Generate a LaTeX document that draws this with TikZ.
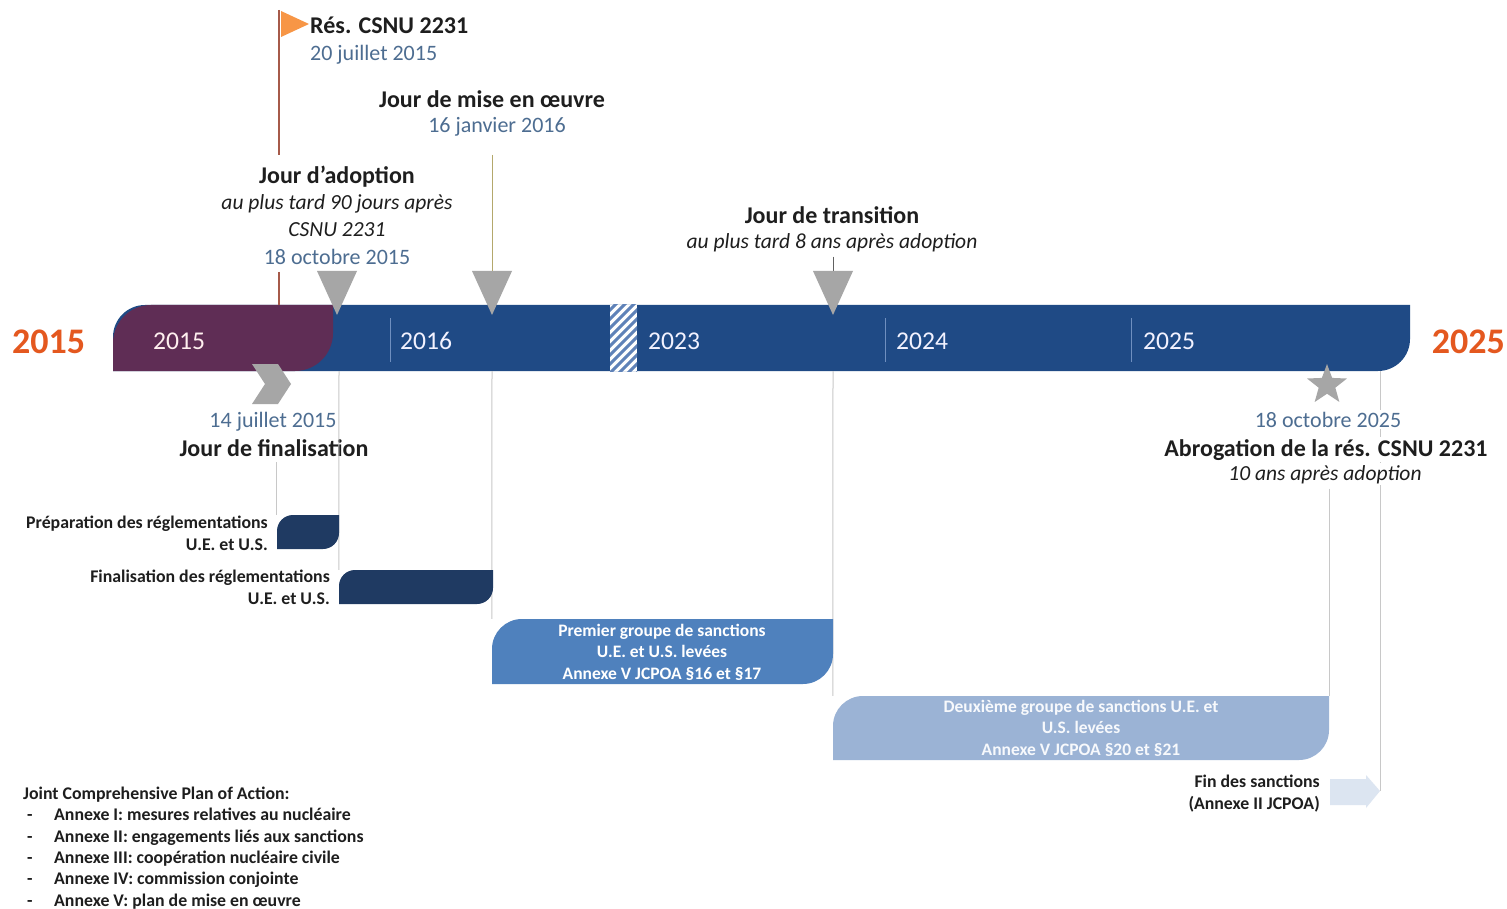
\documentclass[tikz,border=0pt]{standalone}
\usepackage{fontspec}
\setmainfont{Carlito}
\usetikzlibrary{shapes.geometric}
\definecolor{plum}{HTML}{5F2D55}
\definecolor{barblue}{HTML}{1F4A85}
\definecolor{navy}{HTML}{1F3A62}
\definecolor{midblue}{HTML}{4F81BD}
\definecolor{paleblue}{HTML}{9BB3D5}
\definecolor{ghost}{HTML}{DCE5F1}
\definecolor{grayc}{HTML}{A6A6A6}
\definecolor{linec}{HTML}{C8C8C8}
\definecolor{datec}{HTML}{4D6D91}
\definecolor{orng}{HTML}{E4581F}
\definecolor{flagc}{HTML}{F79646}
\definecolor{polec}{HTML}{A65A4A}
\definecolor{olive}{HTML}{B4A86C}
\definecolor{txt}{HTML}{1E1E1E}
\definecolor{sepc}{HTML}{6F8FBF}
\definecolor{hatchc}{HTML}{5F82B8}
\newcommand{\leaffill}[6]{%
  \fill[#1] (#2,#5) -- (#2,{#3+#6}) .. controls (#2,{#3+0.448*#6}) and ({#2+0.448*#6},#3) .. ({#2+#6},#3)
    -- (#4,#3) -- (#4,{#5-#6}) .. controls (#4,{#5-0.448*#6}) and ({#4-0.448*#6},#5) .. ({#4-#6},#5) -- cycle;}
\begin{document}
\begin{tikzpicture}[x=1pt,y=-1pt,
  ttl/.style={font=\bfseries\fontsize{24}{29}\selectfont, text=txt, inner sep=0, anchor=base},
  dt/.style={font=\fontsize{22}{26}\selectfont, text=datec, inner sep=0, anchor=base},
  itl/.style={font=\itshape\fontsize{21.5}{26}\selectfont, text=txt, inner sep=0, anchor=base},
  lbl/.style={font=\bfseries\fontsize{17.8}{21.3}\selectfont, text=txt, inner sep=0},
  boxtxt/.style={font=\bfseries\fontsize{17.5}{21.5}\selectfont, text=white, inner sep=0, align=center, anchor=base},
  yr/.style={font=\fontsize{25.6}{30}\selectfont, inner sep=0, anchor=base west},
  bigyr/.style={font=\bfseries\fontsize{36}{40}\selectfont, text=orng, inner sep=0},
  vline/.style={draw=linec, line width=1pt},
  trig/.style={fill=grayc},
  sep/.style={draw=sepc, line width=1pt},
  mask/.style={fill=white, inner ysep=2pt, inner xsep=0pt}
]
\useasboundingbox (0,0) rectangle (1507,909);
\fill[white] (0,0) rectangle (1507,909);

% ---------- main bar ----------
\leaffill{barblue}{113}{305}{1410}{371}{32}
\leaffill{plum}{113}{305}{333}{371}{38}
\node[inner sep=0, minimum width=1297pt, minimum height=66pt] (bar) at (761.5,338) {};
% hatch
\begin{scope}
  \clip (610,305) rectangle (637,371);
  \fill[white] (610,305) rectangle (637,371);
  \foreach \i in {0,...,12} \draw[hatchc, line width=3pt] ({540+\i*9},380) -- ({540+\i*9+80},300);
\end{scope}
% separators
\draw[sep] (390,318) -- (390,362);
\draw[sep] (885,318) -- (885,362);
\draw[sep] (1131,318) -- (1131,362);
% year labels
\node[yr, text=pink!25] (y2015) at (153,349) {2015};
\node[yr, text=blue!5] (y2016) at (400,349) {2016};
\node[yr, text=blue!5] (y2023) at (648,349) {2023};
\node[yr, text=blue!5] (y2024) at (896,349) {2024};
\node[yr, text=blue!5] (y2025) at (1143,349) {2025};
\node[bigyr, anchor=base west] (start) at (12,353) {2015};
\node[bigyr, anchor=base east] (end) at (1505,353) {2025};

% ---------- top events ----------
\node[ttl, anchor=base west] (res) at (310,34) {Rés. CSNU 2231};
\node[dt, anchor=base west] (resd) at (310,61) {20 juillet 2015};
\node[ttl] (mise) at (492,108) {Jour de mise en œuvre};
\node[dt] (mised) at (497,133) {16 janvier 2016};
\node[ttl] (adop) at (337,184) {Jour d’adoption};
\node[itl] (adopi1) at (337,210) {au plus tard 90 jours après};
\node[itl] (adopi2) at (337,237) {CSNU 2231};
\node[dt] (adopd) at (337,265) {18 octobre 2015};
\node[ttl] (trans) at (832,224) {Jour de transition};
\node[itl] (transi) at (832,249) {au plus tard 8 ans après adoption};

% flag and pole
\coordinate (poletop) at (279,10);
\coordinate (polemid) at (279,155);
\coordinate (polelow) at (279,272);
\draw[polec, line width=1.2pt] (poletop) -- (polemid);
\draw[polec, line width=1.2pt] (polelow) -- (polelow |- bar.north);
\fill[flagc] (281,11) -- (309,24) -- (281,37) -- cycle;
\node[inner sep=0] (flag) at (292,24) {};

% markers
\coordinate (tA) at (337,271);
\coordinate (tM) at (492,271);
\coordinate (tT) at (833,271);
\draw[olive, line width=1pt] (492,155) -- (tM);
\draw[txt!70, line width=1pt] (transi.south -| tT) ++(0,4) -- (tT);
\fill[trig] (317,271) -- (357,271) -- (337,315) -- cycle;
\fill[trig] (472,271) -- (512,271) -- (492,315) -- cycle;
\fill[trig] (813,271) -- (853,271) -- (833,315) -- cycle;

% chevron
\fill[grayc] (252,364) -- (278,364) -- (291,384) -- (278,404) -- (252,404) -- (265,384) -- cycle;
\node[inner sep=0] (chev) at (271,384) {};

% end-of-sanctions line (behind the abrogation labels)
\coordinate (arrowtip) at (1380,791);
\draw[vline] (1380,371) -- (arrowtip);

% star
\node[star, star points=5, star point ratio=2.4, fill=grayc, minimum size=42pt, inner sep=0] (star) at (1327,385) {};

% ---------- lower labels ----------
\node[dt] (find) at (273,427) {14 juillet 2015};
\node[ttl] (fin) at (274,456) {Jour de finalisation};
\node[dt, mask] (abrd) at (1328,427) {18 octobre 2025};
\node[ttl, mask] (abr) at (1326,456) {Abrogation de la rés. CSNU 2231};
\node[itl, mask] (abri) at (1325,480) {10 ans après adoption};

% ---------- boxes ----------
\node[inner sep=0, minimum width=62pt, minimum height=34pt] (prep) at (308,532) {};
\node[inner sep=0, minimum width=154pt, minimum height=34pt] (finr) at (416,587) {};
\node[inner sep=0, minimum width=341pt, minimum height=65pt] (prem) at (662.5,651.5) {};
\node[inner sep=0, minimum width=496pt, minimum height=64pt] (deux) at (1081,728) {};

% vertical connectors
\draw[vline] (prep.north west |- fin.south) ++(0,6) -- (prep.north west);
\draw[vline] (339,371) -- (finr.north west);
\draw[vline] (492,371) -- (prem.north west);
\draw[vline] (833,371) -- (deux.north west);
\draw[vline] (deux.north east |- abri.south) ++(0,3) -- (deux.north east);

\leaffill{navy}{277}{515}{339}{549}{16}
\leaffill{navy}{339}{570}{493}{604}{16}
\leaffill{midblue}{492}{619}{833}{684}{30}
\leaffill{paleblue}{833}{696}{1329}{760}{30}
\fill[ghost] (1330,779) -- (1366,779) -- (1366,775) -- (arrowtip) -- (1366,808) -- (1366,805) -- (1330,805) -- cycle;

\node[lbl, align=right, anchor=base east] (prepl) at (268,550) {Préparation des réglementations\\U.E. et U.S.};
\node[lbl, align=right, anchor=base east] (finrl) at (330,604) {Finalisation des réglementations\\U.E. et U.S.};
\node[boxtxt] (preml) at (662,679) {Premier groupe de sanctions\\U.E. et U.S. levées\\Annexe V JCPOA §16 et §17};
\node[boxtxt, text=white!92!paleblue] (deuxl) at (1081,755) {Deuxième groupe de sanctions U.E. et\\U.S. levées\\Annexe V JCPOA §20 et §21};
\node[lbl, align=right, anchor=base east] (endl) at (1320,809) {Fin des sanctions\\(Annexe II JCPOA)};

% legend
\node[lbl, align=left, anchor=base west] (legend) at (23,906) {Joint Comprehensive Plan of Action:\\
\hspace*{4pt}\makebox[27pt][l]{-}Annexe I: mesures relatives au nucléaire\\
\hspace*{4pt}\makebox[27pt][l]{-}Annexe II: engagements liés aux sanctions\\
\hspace*{4pt}\makebox[27pt][l]{-}Annexe III: coopération nucléaire civile\\
\hspace*{4pt}\makebox[27pt][l]{-}Annexe IV: commission conjointe\\
\hspace*{4pt}\makebox[27pt][l]{-}Annexe V: plan de mise en œuvre};
\end{tikzpicture}
\end{document}
